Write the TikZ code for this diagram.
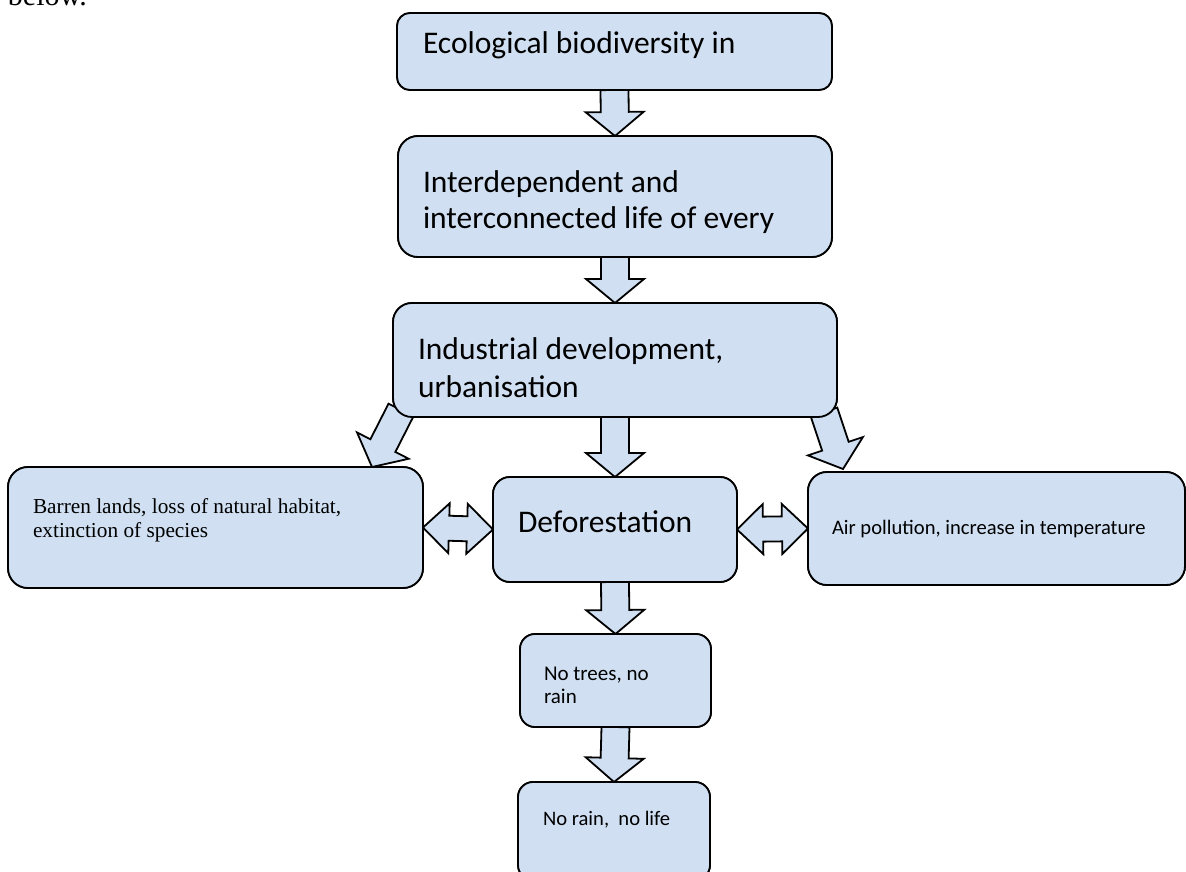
\documentclass[tikz,border=0pt]{standalone}
\usepackage{fontspec}
\setmainfont{Carlito}
\newfontfamily\timesf{Liberation Serif}
\usetikzlibrary{calc}
\definecolor{boxblue}{RGB}{208,224,242}
\tikzset{
  box/.style={draw=black, line width=1.8pt, fill=boxblue, inner sep=0pt, outer sep=0pt},
  blk/.style={draw=black, line width=1.8pt, fill=boxblue, line join=miter},
  txt/.style={anchor=base west, inner sep=0pt, outer sep=0pt},
  big/.style={font=\fontsize{31.5}{36}\selectfont},
}
\newcommand\blockarrow[2]{%
  \coordinate (ah) at ($(#2)!24pt!(#1)$);
  \draw[blk] ($(#1)!14pt!90:(#2)$) -- ($(ah)!14pt!-90:(#1)$) -- ($(ah)!29pt!-90:(#1)$) -- (#2)
    -- ($(ah)!29pt!90:(#1)$) -- ($(ah)!14pt!90:(#1)$) -- ($(#1)!14pt!-90:(#2)$) -- cycle;}
\newcommand\dblarrow[2]{%
  \coordinate (hl) at ($(#1)!26pt!(#2)$);
  \coordinate (hr) at ($(#2)!26pt!(#1)$);
  \draw[blk] (#1) -- ($(hl)!25pt!90:(#2)$) -- ($(hl)!12.5pt!90:(#2)$) -- ($(hr)!12.5pt!-90:(#1)$)
    -- ($(hr)!25pt!-90:(#1)$) -- (#2) -- ($(hr)!25pt!90:(#1)$) -- ($(hr)!12.5pt!90:(#1)$)
    -- ($(hl)!12.5pt!-90:(#2)$) -- ($(hl)!25pt!-90:(#2)$) -- cycle;}
\begin{document}
\begin{tikzpicture}[x=1pt,y=-1pt]
\useasboundingbox (0,0) rectangle (1186,871);
\clip (0,0) rectangle (1186,871);
% boxes (positions)
\path
  node[box, rounded corners=13pt, minimum width=435pt, minimum height=77pt] (b1) at (614.5,51.5) {}
  node[box, rounded corners=20pt, minimum width=434pt, minimum height=121pt] (b2) at (615,196.5) {}
  node[box, rounded corners=19pt, minimum width=444pt, minimum height=114pt] (b3) at (615,360) {}
  node[box, rounded corners=20pt, minimum width=415pt, minimum height=121pt] (lb) at (215.5,527.5) {}
  node[box, rounded corners=17pt, minimum width=244pt, minimum height=105pt] (def) at (615,529.5) {}
  node[box, rounded corners=19pt, minimum width=377pt, minimum height=113pt] (rb) at (996.5,528.5) {}
  node[box, rounded corners=15pt, minimum width=191pt, minimum height=93pt] (nt) at (615.5,680.5) {}
  node[box, rounded corners=15pt, minimum width=192pt, minimum height=98pt] (nl) at (614,831) {};
% arrows
\coordinate (ls) at ($(b3.south west)+(8,-7)$);
\coordinate (le) at ($(lb.north east)+(-51,0)$);
\coordinate (rs) at ($(b3.south east)+(-13,-5)$);
\coordinate (re) at ($(rb.north west)+(35,-3)$);
\blockarrow{ls}{le}
\blockarrow{rs}{re}
\blockarrow{b1.south}{b2.north}
\blockarrow{b2.south}{b3.north}
\blockarrow{b3.south}{def.north}
\blockarrow{def.south}{nt.north}
\blockarrow{nt.south}{nl.north}
\dblarrow{lb.east}{def.west}
\dblarrow{def.east}{rb.west}
% redraw boxes on top
\foreach \n/\r in {b1/13,b2/20,b3/19,lb/20,def/17,rb/19,nt/15,nl/15}
  \draw[box, rounded corners=\r pt] (\n.south west) rectangle (\n.north east);
% texts
\node[txt, font=\timesf\fontsize{30}{36}\selectfont] (bl) at (8,5) {below.};
\node[txt, big] (t1) at (423,53) {Ecological biodiversity in};
\node[txt, font=\fontsize{31.5}{36}\selectfont] (t2) at (423,192) {\begin{tabular}[t]{@{}l@{}}Interdependent and\\interconnected life of every\end{tabular}};
\node[txt, font=\fontsize{31.5}{38}\selectfont] (t3) at (418,359) {\begin{tabular}[t]{@{}l@{}}Industrial development,\\urbanisation\end{tabular}};
\node[txt, big] (tdef) at (518,532) {Deforestation};
\node[txt, font=\timesf\fontsize{21.3}{24}\selectfont] (tl) at (33,513) {\begin{tabular}[t]{@{}l@{}}Barren lands, loss of natural habitat,\\extinction of species\end{tabular}};
\node[txt, font=\fontsize{20.6}{24}\selectfont] (tr) at (832,534) {Air pollution, increase in temperature};
\node[txt, font=\fontsize{21}{23}\selectfont] (tnt) at (544,680) {\begin{tabular}[t]{@{}l@{}}No trees, no\\rain\end{tabular}};
\node[txt, font=\fontsize{20.6}{24}\selectfont] (tnl) at (543,825) {No rain,\ \ no life};
\end{tikzpicture}
\end{document}
